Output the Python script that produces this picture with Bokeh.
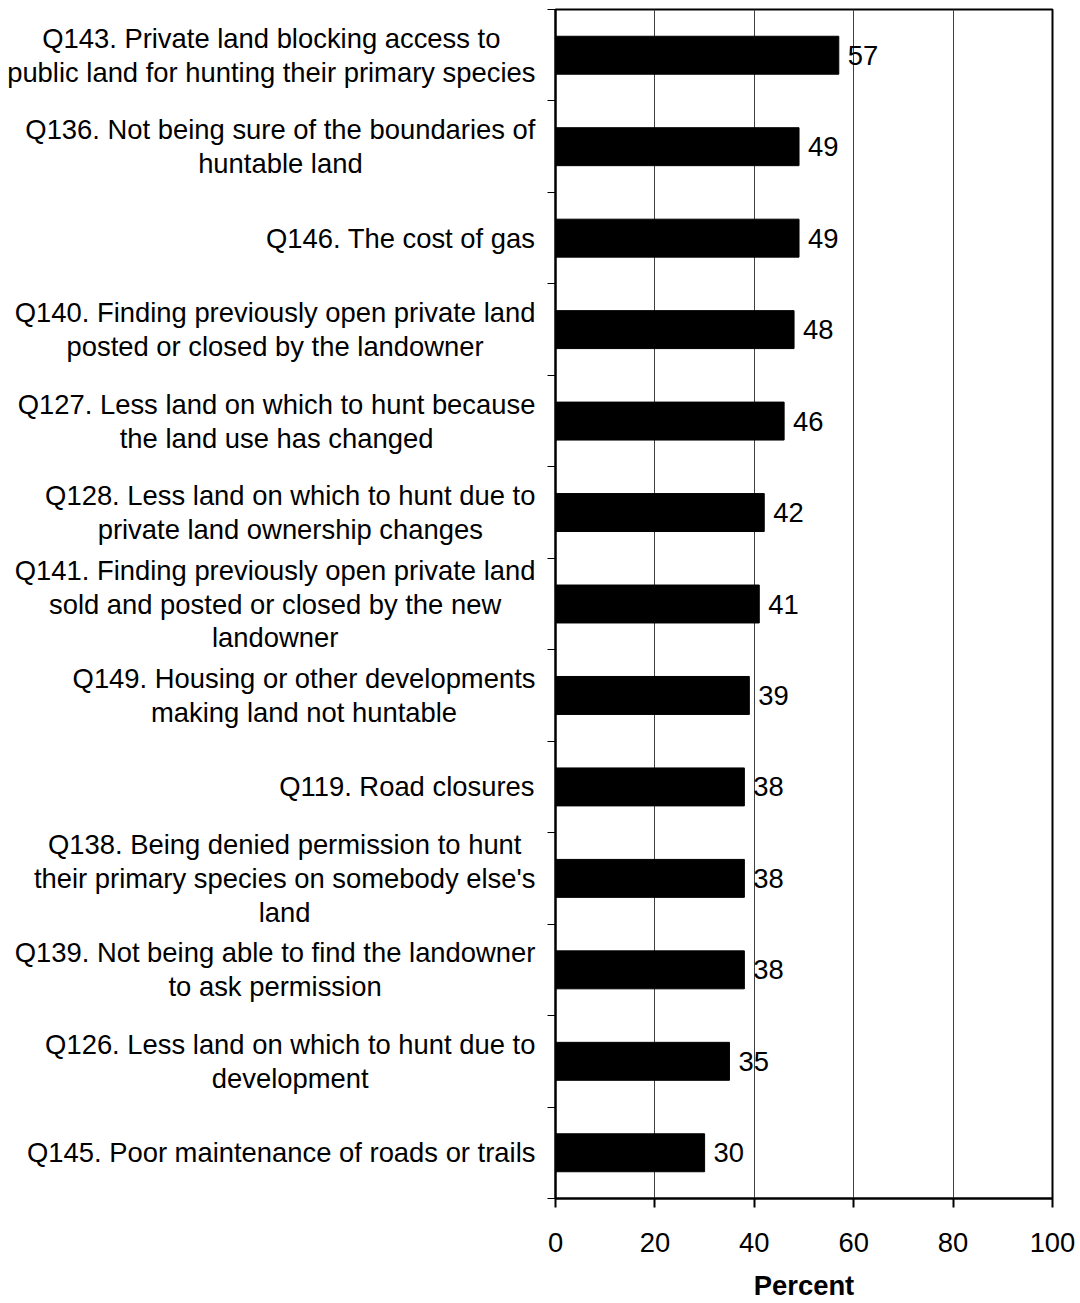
from bokeh.plotting import figure
from bokeh.layouts import row
from bokeh.models import Range1d, FixedTicker
from bokeh.embed import file_html
from bokeh.resources import INLINE
from bokeh.core.properties import value

# ---------------- data ----------------
labels = [
    "Q143. Private land blocking access to\npublic land for hunting their primary species",
    "Q136. Not being sure of the boundaries of\nhuntable land",
    "Q146. The cost of gas",
    "Q140. Finding previously open private land\nposted or closed by the landowner",
    "Q127. Less land on which to hunt because\nthe land use has changed",
    "Q128. Less land on which to hunt due to\nprivate land ownership changes",
    "Q141. Finding previously open private land\nsold and posted or closed by the new\nlandowner",
    "Q149. Housing or other developments\nmaking land not huntable",
    "Q119. Road closures",
    "Q138. Being denied permission to hunt\ntheir primary species on somebody else's\nland",
    "Q139. Not being able to find the landowner\nto ask permission",
    "Q126. Less land on which to hunt due to\ndevelopment",
    "Q145. Poor maintenance of roads or trails",
]
values = [57, 49, 49, 48, 46, 42, 41, 39, 38, 38, 38, 35, 30]
x_ticks = [0, 20, 40, 60, 80, 100]
axis_title = "Percent"

# ---------------- style / layout ----------------
FONT = "Liberation Sans"
FS = 27.4
LINE_H = 34          # px between label lines
H = 1303
TOP = 9
BOTTOM = 104
LEFT_W = 547         # width of the label panel
LABEL_RIGHT = 535    # right edge of the label block (px)
FRAME_H = H - TOP - BOTTOM

# Arial / Liberation Sans advance widths (per 1000 em)
ARIAL = {
    " ": 278, "'": 191, ".": 278,
    "0": 556, "1": 556, "2": 556, "3": 556, "4": 556, "5": 556, "6": 556, "7": 556, "8": 556, "9": 556,
    "A": 667, "B": 667, "C": 722, "D": 722, "E": 667, "F": 611, "G": 778, "H": 722, "I": 278,
    "J": 500, "K": 667, "L": 556, "M": 833, "N": 722, "O": 778, "P": 667, "Q": 778, "R": 722,
    "S": 667, "T": 611, "U": 722, "V": 667, "W": 944, "X": 667, "Y": 667, "Z": 611,
    "a": 556, "b": 556, "c": 500, "d": 556, "e": 556, "f": 278, "g": 556, "h": 556, "i": 222,
    "j": 222, "k": 500, "l": 222, "m": 833, "n": 556, "o": 556, "p": 556, "q": 556, "r": 333,
    "s": 500, "t": 278, "u": 556, "v": 500, "w": 722, "x": 500, "y": 500, "z": 500,
}


def text_w(s):
    return sum(ARIAL.get(c, 556) for c in s) / 1000.0 * FS


n = len(labels)
yc = [n - i - 0.5 for i in range(n)]
y_range = Range1d(0, n)
px_per_unit = FRAME_H / n

# ---------------- label panel ----------------
pl = figure(width=LEFT_W, height=H, x_range=Range1d(0, LEFT_W), y_range=y_range,
            x_axis_location=None, y_axis_location=None,
            output_backend="svg", toolbar_location=None,
            min_border_left=0, min_border_right=0, min_border_top=TOP, min_border_bottom=BOTTOM)
pl.outline_line_color = None
pl.grid.grid_line_color = None
pl.background_fill_color = "white"
pl.border_fill_color = "white"

lx, ly, lt = [], [], []
for i, lab in enumerate(labels):
    lines = lab.split("\n")
    bw = max(text_w(l) for l in lines)
    k = len(lines)
    for j, line in enumerate(lines):
        lx.append(LABEL_RIGHT - bw / 2.0)
        ly.append(yc[i] + ((k - 1) / 2.0 - j) * LINE_H / px_per_unit)
        lt.append(line)
pl.text(x=lx, y=ly, text=lt, text_align="center", text_baseline="middle",
        text_font=value(FONT), text_font_size=f"{FS}px", text_color="black")

# ---------------- chart panel ----------------
p = figure(width=1080 - LEFT_W, height=H, x_range=Range1d(0, 100), y_range=y_range,
           output_backend="svg", toolbar_location=None,
           min_border_left=8, min_border_right=28, min_border_top=TOP, min_border_bottom=BOTTOM)
p.background_fill_color = "white"
p.border_fill_color = "white"
p.outline_line_color = "black"
p.outline_line_width = 2

p.hbar(y=yc, right=values, left=0, height=0.415, fill_color="black", line_color="black")

p.text(x=values, y=yc, text=[str(v) for v in values], x_offset=9,
       text_align="left", text_baseline="middle",
       text_font=value(FONT), text_font_size=f"{FS}px", text_color="black")

xt = FixedTicker(ticks=x_ticks)
p.xaxis.ticker = xt
p.xaxis.major_tick_out = 9
p.xaxis.major_tick_in = 0
p.xaxis.major_tick_line_width = 2
p.xaxis.minor_tick_line_color = None
p.xaxis.axis_line_width = 2
p.xaxis.axis_line_color = "black"
p.xaxis.major_tick_line_color = "black"
p.xaxis.major_label_text_font = FONT
p.xaxis.major_label_text_font_size = f"{FS}px"
p.xaxis.major_label_text_color = "black"
p.xaxis.major_label_standoff = 25
p.xaxis.axis_label = axis_title
p.xaxis.axis_label_text_font = FONT
p.xaxis.axis_label_text_font_size = f"{FS}px"
p.xaxis.axis_label_text_font_style = "bold"
p.xaxis.axis_label_text_color = "black"
p.xaxis.axis_label_standoff = 15

p.yaxis.ticker = FixedTicker(ticks=list(range(n + 1)))
p.yaxis.major_tick_out = 8
p.yaxis.major_tick_in = 0
p.yaxis.major_tick_line_width = 1
p.yaxis.minor_tick_line_color = None
p.yaxis.axis_line_width = 2
p.yaxis.axis_line_color = "black"
p.yaxis.major_tick_line_color = "black"
p.yaxis.major_label_overrides = {i: "" for i in range(n + 1)}
p.yaxis.major_label_standoff = 0

p.xgrid.ticker = xt
p.xgrid.grid_line_color = "#404040"
p.xgrid.grid_line_width = 1
p.ygrid.grid_line_color = None

layout = row(pl, p)
open("out.html", "w").write(file_html(layout, INLINE))
